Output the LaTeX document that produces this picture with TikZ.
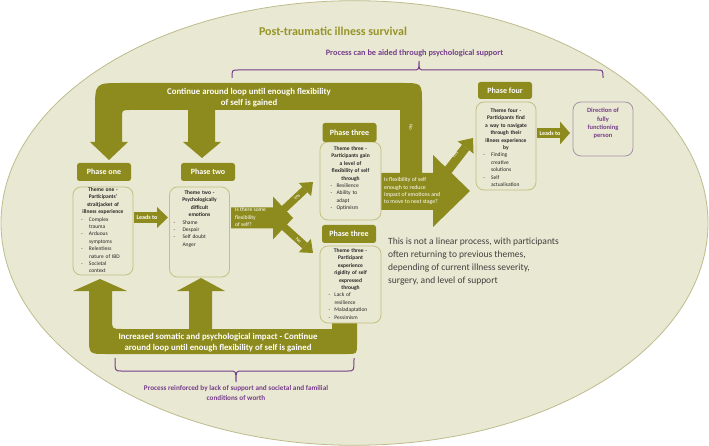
\documentclass[tikz,border=0pt]{standalone}
\usepackage{fontspec}
\setmainfont{Carlito}
\usetikzlibrary{arrows.meta}
\definecolor{olv}{RGB}{142,139,30}
\definecolor{ell}{RGB}{233,232,210}
\definecolor{elld}{RGB}{190,188,140}
\definecolor{bxd}{RGB}{196,192,130}
\definecolor{prp}{RGB}{118,62,140}
\definecolor{ttl}{RGB}{150,148,40}
\definecolor{gry}{RGB}{64,64,64}
\definecolor{dirb}{RGB}{165,145,170}
\newlength\bdx \newlength\bdg
\newcommand\ct[1]{\makebox[60pt][c]{\bfseries #1}}
\newcommand\bl[1]{\hspace*{\bdx}\makebox[\bdg][l]{-}#1}
\newcommand\cl[1]{\hspace*{\bdx}\hspace*{\bdg}#1}
\tikzset{
 phase/.style={fill=olv, rounded corners=2.5pt, text=white, font=\fontsize{8}{9}\selectfont\bfseries, minimum width=54pt, minimum height=18pt, inner sep=0pt},
 tbox/.style={draw=bxd, line width=0.8pt, fill=ell, rounded corners=8pt, minimum width=60pt, inner sep=0pt},
 ttext/.style 2 args={text width=60pt, inner sep=0pt, align=left, font=\fontsize{5.5}{7.4}\selectfont, text=black!85, anchor=north, execute at begin node={\setlength\bdx{#1}\setlength\bdg{#2}}},
 blk/.style n args={3}{olv, line width=#1, -{Triangle[length=#2, width=#3, line width=0pt]}},
 wlab/.style={text=white, font=\fontsize{6}{7}\selectfont\bfseries, inner sep=0pt},
 tiny/.style={text=white, font=\fontsize{5}{6}\selectfont, inner sep=0pt},
 bandtxt/.style={text=white, align=center, font=\fontsize{8.8}{11}\selectfont\bfseries, inner sep=0pt},
 brace/.style={prp, line width=1pt}
}
\begin{document}
\begin{tikzpicture}[x=1pt,y=-1pt]
\useasboundingbox (0,0) rectangle (709,446);
\fill[white] (0,0) rectangle (709,446);
\draw[draw=elld, fill=ell, line width=0.8pt] (354.5,223) ellipse [x radius=353.5pt, y radius=222.3pt];

% titles
\node[font=\fontsize{12}{14}\selectfont\bfseries, text=ttl] (title) at (333,31) {Post-traumatic illness survival};
\node[font=\fontsize{8.3}{10}\selectfont\bfseries, text=prp] (aid) at (414.5,53) {Process can be aided through psychological support};
\draw[brace] (232,78) .. controls (232,70) .. (238,70) -- (413,70) .. controls (419,70) .. (419,61) .. controls (419,70) .. (425,70) -- (597,70) .. controls (603,70) .. (603,78);

% top loop
\fill[olv] (95,142) -- (95,110) .. controls (95,83) .. (122,83) -- (402,83) .. controls (422,83) .. (422,103) -- (422,175) -- (400,175) -- (400,110) -- (215,110) -- (215,142) -- (221,142) -- (202,158) -- (183,142) -- (188,142) -- (188,110) -- (130,110) .. controls (122,110) .. (122,118) -- (122,142) -- (128,142) -- (109,160) -- (90,142) -- cycle;
\node[bandtxt] (toptxt) at (249,97.5) {Continue around loop until enough flexibility\\of self is gained};
\node[tiny, rotate=-90] (no1) at (411,127) {No};

% big decision arrow
\fill[olv] (380,173) -- (433,173) -- (433,155) -- (470,191) -- (433,227) -- (433,210) -- (380,210) -- cycle;

% flexibility arrow
\fill[olv] (231,207.5) -- (273,207.5) -- (273,196.5) -- (293,218) -- (273,239.5) -- (273,228.5) -- (231,228.5) -- cycle;

% bottom loop
\fill[olv] (73,291) -- (100,279) -- (127,291) -- (112,291) -- (112,319) .. controls (112,329) .. (122,329) -- (189,329) -- (189,291) -- (177,291) -- (201,278) -- (225,291) -- (212,291) -- (212,329) -- (332,329) -- (332,300) -- (357,300) -- (357,344) .. controls (357,354) .. (347,354) -- (106,354) .. controls (89,354) .. (89,337) -- (89,291) -- cycle;
\node[bandtxt] (bottxt) at (218,342.5) {Increased somatic and psychological impact - Continue\\around loop until enough flexibility of self is gained};
\draw[brace] (115,358) .. controls (115,371) .. (121,371) -- (230,371) .. controls (236,371) .. (236,382) .. controls (236,371) .. (242,371) -- (348,371) .. controls (354,371) .. (354,358);
\node[font=\fontsize{7.2}{10}\selectfont\bfseries, text=prp, align=center] (reinf) at (236,393) {Process reinforced by lack of support and societal and familial\\conditions of worth};

% small arrows
\coordinate (l1s) at (134,217.5); \coordinate (l1e) at (168,217.5);
\draw[blk={11pt}{11pt}{21pt}] (l1s) -- (l1e);
\coordinate (ys) at (282,211); \coordinate (ye) at (313,182);
\draw[blk={7.5pt}{11pt}{18pt}] (ys) -- (ye);
\coordinate (ns) at (282,225); \coordinate (ne) at (313,253);
\draw[blk={7.5pt}{11pt}{18pt}] (ns) -- (ne);
\coordinate (y2s) at (442,178); \coordinate (y2e) at (473,138);
\draw[blk={9pt}{12pt}{20pt}] (y2s) -- (y2e);
\coordinate (l2s) at (537,133); \coordinate (l2e) at (570,133);
\draw[blk={10pt}{10pt}{23pt}] (l2s) -- (l2e);

% boxes
\node[tbox, minimum height=88pt] (b1) at (103,231) {};
\node[tbox, minimum height=90pt] (b2) at (199.5,232) {};
\node[tbox, minimum height=78pt, minimum width=61pt] (b3a) at (350.5,181) {};
\node[tbox, minimum height=77pt, minimum width=61pt] (b3b) at (350.5,284.5) {};
\node[tbox, minimum height=88pt] (b4) at (506,146) {};
\node[tbox, draw=dirb, minimum height=54pt] (b5) at (603,129) {};

\node[phase] (p1) at (104,172) {Phase one};
\node[phase] (p2) at (208,172) {Phase two};
\node[phase, minimum height=19pt] (p3a) at (349.5,132.5) {Phase three};
\node[phase] (p3b) at (349,234) {Phase three};
\node[phase, minimum height=17pt] (p4) at (505,90.5) {Phase four};

\node[ttext={8pt}{8pt}] (t1) at (103,187.5) {\ct{Theme one -}\\\ct{Participants'}\\\ct{straitjacket of}\\\ct{illness experience}\\\bl{Complex}\\\cl{trauma}\\\bl{Arduous}\\\cl{symptoms}\\\bl{Relentless}\\\cl{nature of IBD}\\\bl{Societal}\\\cl{context}};
\node[ttext={4pt}{9pt}] (t2) at (199.5,190.5) {\ct{Theme two -}\\\ct{Psychologically}\\\ct{difficult}\\\ct{emotions}\\\bl{Shame}\\\bl{Despair}\\\bl{Self doubt}\\\cl{Anger}};
\node[ttext={10pt}{6pt}] (t3a) at (350.5,146.5) {\ct{Theme three -}\\\ct{Participants gain}\\\ct{a level of}\\\ct{flexibility of self}\\\ct{through}\\\bl{Resilience}\\\bl{Ability to}\\\cl{adapt}\\\bl{Optimism}};
\node[ttext={8pt}{6pt}] (t3b) at (350.5,248.5) {\ct{Theme three -}\\\ct{Participant}\\\ct{experience}\\\ct{rigidity of self}\\\ct{expressed}\\\ct{through}\\\bl{Lack of}\\\cl{resilience}\\\bl{Maladaptation}\\\bl{Pessimism}};
\node[ttext={7pt}{8pt}] (t4) at (506,108.5) {\ct{Theme four -}\\\ct{Participants find}\\\ct{a way to navigate}\\\ct{through their}\\\ct{illness experience}\\\ct{by}\\\bl{Finding}\\\cl{creative}\\\cl{solutions}\\\bl{Self}\\\cl{actualisation}};
\node[font=\fontsize{6.5}{8.3}\selectfont\bfseries, text=prp, align=center, anchor=north, inner sep=0pt] (t5) at (603,108) {Direction of\\fully\\functioning\\person};

% arrow labels
\node[wlab] (lt1) at (147,217.5) {Leads to};
\node[wlab] (lt2) at (550,133) {Leads to};
\node[anchor=north west, align=left, text=white, font=\fontsize{5.6}{7.5}\selectfont, inner sep=0pt] (q1) at (235,207.5) {Is there some\\flexibility\\of self?};
\node[anchor=north west, align=left, text=white, font=\fontsize{5.8}{7.3}\selectfont, inner sep=0pt] (q2) at (384,177.5) {Is flexibility of self\\enough to reduce\\impact of emotions and\\to move to next stage?};
\node[tiny, rotate=45] (yes1) at (297,197) {Yes};
\node[tiny, rotate=-45] (no2) at (298.5,240.5) {No};
\node[tiny, rotate=52] (yes2) at (455,155) {Yes};

% note
\node[anchor=north west, align=left, text=gry, font=\fontsize{9.5}{13}\selectfont, inner sep=0pt] (note) at (388,237.5) {This is not a linear process, with participants\\often returning to previous themes,\\depending of current illness severity,\\surgery, and level of support};
\end{tikzpicture}
\end{document}
